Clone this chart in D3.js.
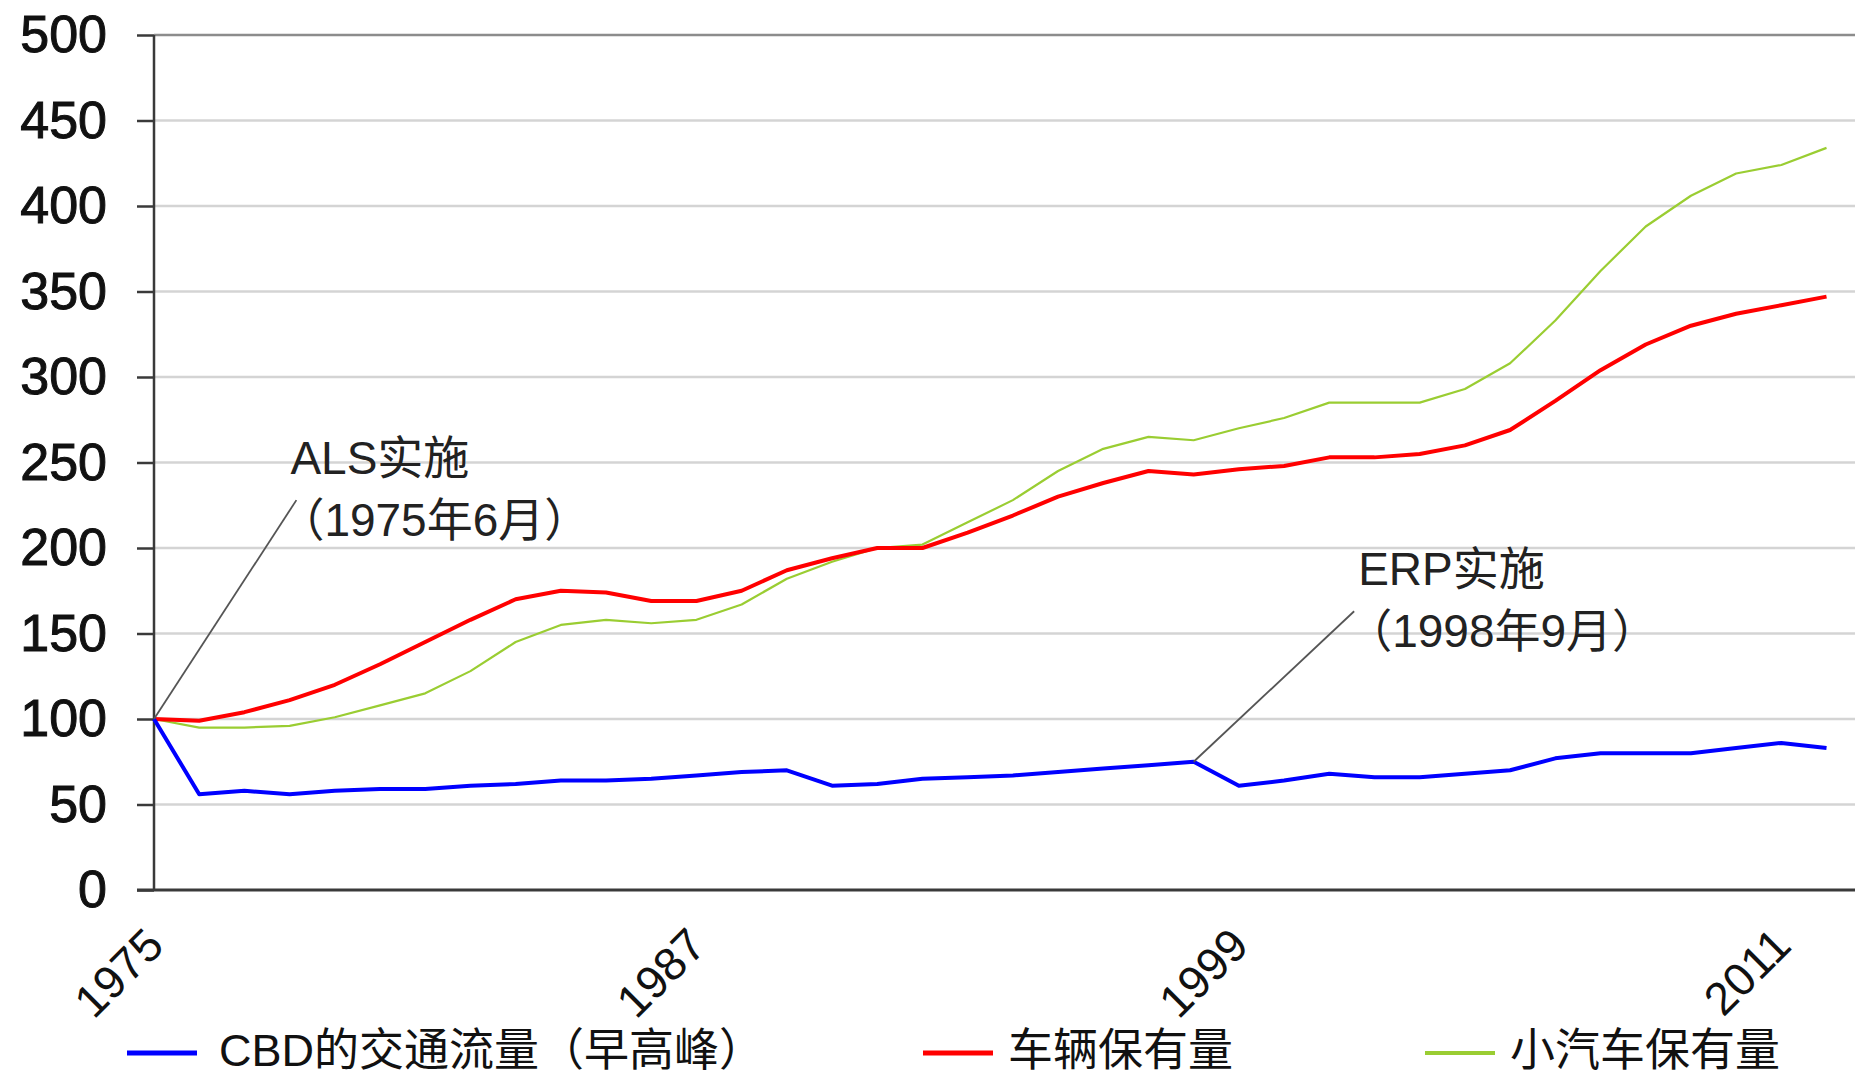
<!DOCTYPE html>
<html>
<head>
<meta charset="utf-8">
<script src="https://cdn.jsdelivr.net/npm/d3@7"></script>
<style>
  html, body { margin: 0; padding: 0; background: #fff; }
  svg { display: block; font-family: "Liberation Sans", Arial, "Noto Sans CJK SC", sans-serif; }
</style>
</head>
<body>
<svg></svg>
<script>
// data (index, 1975 = 100)
var years = d3.range(1975, 2013);
var cbdTraffic = [100, 56, 58, 56, 58, 59, 59, 61, 62, 64, 64, 65, 67, 69, 70, 61, 62, 65, 66, 67,
                  69, 71, 73, 75, 61, 64, 68, 66, 66, 68, 70, 77, 80, 80, 80, 83, 86, 83];
var vehicles = [100, 99, 104, 111, 120, 132, 145, 158, 170, 175, 174, 169, 169, 175, 187, 194, 200, 200, 209, 219,
                230, 238, 245, 243, 246, 248, 253, 253, 255, 260, 269, 286, 304, 319, 330, 337, 342, 347];
var cars = [100, 95, 95, 96, 101, 108, 115, 128, 145, 155, 158, 156, 158, 167, 182, 192, 200, 202, 215, 228,
            245, 258, 265, 263, 270, 276, 285, 285, 285, 293, 308, 333, 362, 388, 406, 419, 424, 434];
var seriesNames = ["CBD的交通流量（早高峰）", "车辆保有量", "小汽车保有量"];
var seriesColors = ["#0000ff", "#ff0000", "#9acd32"];
var yTicks = [0, 50, 100, 150, 200, 250, 300, 350, 400, 450, 500];
var xTickYears = [1975, 1987, 1999, 2011];
// annotations: [text line 1, text line 2, point year, point value, line end year, line end value]
var notes = [
  ["ALS实施", "（1975年6月）", 1975, 100, 1978.15, 228],
  ["ERP实施", "（1998年9月）", 1998, 75, 2001.55, 163]
];
var noteShift = [-6, 4];

var width = 1855, height = 1078;
var svg = d3.select("svg").attr("width", width).attr("height", height);

var x = d3.scaleLinear().domain([1975, 2012.63]).range([154, 1855]);
var y = d3.scaleLinear().domain([0, 500]).range([890, 35]);

// grid
svg.append("g")
    .selectAll("line")
    .data(yTicks.filter(function (d) { return d > 0; }))
    .enter().append("line")
    .attr("x1", 154).attr("x2", width)
    .attr("y1", function (d) { return y(d); })
    .attr("y2", function (d) { return y(d); })
    .style("stroke", function (d) { return d == 500 ? "#8c8c8c" : "#d4d4d4"; })
    .style("stroke-width", 2.5);

// y axis
var yAxis = svg.append("g")
    .attr("transform", "translate(154,0)")
    .call(d3.axisLeft(y).tickValues(yTicks).tickSize(17).tickPadding(30));
yAxis.select(".domain").attr("d", "M0," + y(500) + "V" + y(0)).style("stroke", "#3a3a3a").style("stroke-width", 2.5);
yAxis.selectAll(".tick line").style("stroke", "#3a3a3a").style("stroke-width", 2.5);
yAxis.selectAll(".tick text")
    .style("font-size", "52px")
    .style("fill", "#111")
    .style("stroke", "#111")
    .style("stroke-width", 1);

// x axis line
svg.append("line")
    .attr("x1", 137).attr("x2", width)
    .attr("y1", y(0)).attr("y2", y(0))
    .style("stroke", "#3a3a3a").style("stroke-width", 3);

svg.append("g")
    .selectAll("text")
    .data(xTickYears)
    .enter().append("text")
    .attr("transform", function (d) { return "translate(" + (x(d) + 12) + ",948) rotate(-45)"; })
    .attr("text-anchor", "end")
    .style("font-size", "46px")
    .style("fill", "#111")
    .text(function (d) { return d; });

// lines
var allSeries = [cbdTraffic, vehicles, cars];
var widths = [4, 4, 2.2];
var line = d3.line()
    .x(function (d, i) { return x(years[i]); })
    .y(function (d) { return y(d); });

// draw green first so red and blue sit on top
[2, 1, 0].forEach(function (k) {
    svg.append("path")
        .datum(allSeries[k])
        .attr("d", line)
        .style("fill", "none")
        .style("stroke", seriesColors[k])
        .style("stroke-width", widths[k])
        .style("stroke-linejoin", "round");
});

// annotations
var note = svg.append("g").selectAll("g").data(notes).enter().append("g");
note.append("line")
    .attr("x1", function (d) { return x(d[2]); })
    .attr("y1", function (d) { return y(d[3]); })
    .attr("x2", function (d) { return x(d[4]); })
    .attr("y2", function (d) { return y(d[5]); })
    .style("stroke", "#555")
    .style("stroke-width", 1.8);
note.append("text")
    .attr("x", function (d, i) { return x(d[4]) + noteShift[i]; })
    .attr("y", function (d) { return y(d[5]) - 26; })
    .style("font-size", "46px")
    .style("fill", "#222")
    .text(function (d) { return d[0]; });
note.append("text")
    .attr("x", function (d, i) { return x(d[4]) + noteShift[i] - 12; })
    .attr("y", function (d) { return y(d[5]) + 36; })
    .style("font-size", "46px")
    .style("fill", "#222")
    .text(function (d) { return d[1]; });

// legend
var legendX = [127, 923, 1425];
var legend = svg.append("g").selectAll("g").data(seriesNames).enter().append("g")
    .attr("transform", function (d, i) { return "translate(" + legendX[i] + ",1053)"; });
legend.append("line")
    .attr("x1", 0).attr("x2", 70)
    .style("stroke", function (d, i) { return seriesColors[i]; })
    .style("stroke-width", function (d, i) { return i == 2 ? 4 : 5; });
legend.append("text")
    .attr("x", function (d, i) { return i == 0 ? 92 : 85; })
    .attr("y", 13)
    .style("font-size", "45px")
    .style("fill", "#111")
    .text(function (d) { return d; });
</script>
</body>
</html>
